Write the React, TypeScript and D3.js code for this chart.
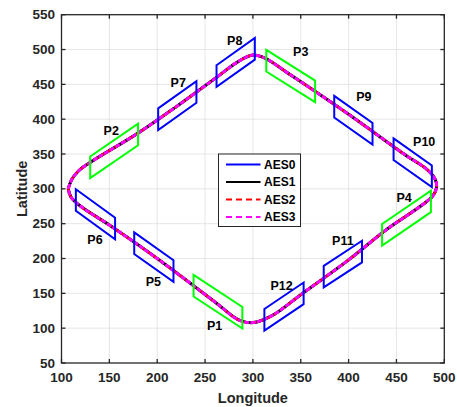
import React from 'react';
import * as d3 from 'd3';

const width = 457, height = 407;
const plot = { left: 61.5, right: 444.3, top: 14.7, bottom: 363 };

const xTicks = [100, 150, 200, 250, 300, 350, 400, 450, 500];
const yTicks = [50, 100, 150, 200, 250, 300, 350, 400, 450, 500, 550];

// trajectory waypoints (longitude, latitude)
const track: [number, number][] = [
    [107, 300], [111, 314], [118, 326], [130, 338], [180, 380], [220, 418],
    [260, 458], [285, 483], [300, 492], [312, 488], [340, 463], [400, 407],
    [460, 348], [480, 330], [490, 315], [492, 303], [488, 290], [475, 275],
    [440, 242], [400, 198], [350, 148], [320, 118], [300, 108], [285, 112],
    [260, 138], [200, 200], [150, 248], [120, 275], [110, 288], [107, 300]
];

const series = ['AES0', 'AES1', 'AES2', 'AES3'];
const seriesColor = ['#0000ff', '#000000', '#ff0000', '#ff00ff'];
const seriesDash = ['', '', '6 4', '6 4'];

// parallelogram regions: centre of left edge, centre of right edge
const boxNames = ['P1', 'P2', 'P3', 'P4', 'P5', 'P6', 'P7', 'P8', 'P9', 'P10', 'P11', 'P12'];
const boxStart: [number, number][] = [
    [238, 161], [130, 331], [314, 484], [435, 234], [176, 222], [115, 284],
    [201, 400], [262, 462], [385, 418], [447, 357], [374, 174], [312, 112]
];
const boxEnd: [number, number][] = [
    [289, 115], [180, 378], [365, 440], [486, 282], [217, 182], [156, 243],
    [241, 439], [302, 501], [425, 379], [487, 318], [414, 210], [353, 150]
];
const boxGreen = [true, true, true, true, false, false, false, false, false, false, false, false];
const labelPos: [number, number][] = [
    [260, 103], [152, 383], [350, 497], [458, 287], [196, 166], [135, 227],
    [222, 452], [281, 512], [416, 432], [479, 367], [394, 225], [330, 160]
];
const boxHalf = 15.5;

const font = '"Liberation Sans", Arial, sans-serif';

export default function App() {
    const x = d3.scaleLinear().domain([100, 500]).range([plot.left, plot.right]);
    const y = d3.scaleLinear().domain([50, 550]).range([plot.bottom, plot.top]);

    const line = d3.line<[number, number]>()
        .x(d => x(d[0]))
        .y(d => y(d[1]))
        .curve(d3.curveCatmullRom.alpha(0.5));
    const path = line(track) || '';

    const boxPath = (i: number) => {
        const [x1, y1] = boxStart[i];
        const [x2, y2] = boxEnd[i];
        return `M${x(x1)},${y(y1 + boxHalf)}L${x(x2)},${y(y2 + boxHalf)}` +
            `L${x(x2)},${y(y2 - boxHalf)}L${x(x1)},${y(y1 - boxHalf)}Z`;
    };

    const legend = { x: 218.5, y: 154, w: 82, h: 72.5 };
    const tickLen = 4;
    const axisColor = '#262626';

    // on the track the dashes are drawn a bit denser so the magenta dominates
    const trackDash = ['', '', '5 3', '5 1.5'];
    const trackWidth = [2.5, 3, 2.5, 3];

    return (
        <svg width={width} height={height} style={{ position: 'absolute', left: 0, top: 0, background: '#fff' }}>
            <defs>
                <clipPath id="plotClip">
                    <rect x={plot.left} y={plot.top} width={plot.right - plot.left} height={plot.bottom - plot.top} />
                </clipPath>
            </defs>
            <rect x={0} y={0} width={width} height={height} fill="#fff" />
            {/* grid */}
            {xTicks.slice(1, -1).map(t => (
                <line key={'gx' + t} x1={x(t)} x2={x(t)} y1={plot.top} y2={plot.bottom} stroke="#dfdfdf" strokeWidth={0.8} />
            ))}
            {yTicks.slice(1, -1).map(t => (
                <line key={'gy' + t} x1={plot.left} x2={plot.right} y1={y(t)} y2={y(t)} stroke="#dfdfdf" strokeWidth={0.8} />
            ))}

            <g clipPath="url(#plotClip)">
                {series.map((s, i) => (
                    <path key={s} d={path} fill="none" stroke={seriesColor[i]}
                        strokeWidth={trackWidth[i]} strokeDasharray={trackDash[i]} />
                ))}
                {boxNames.map((n, i) => (
                    <path key={n} d={boxPath(i)} fill="none" stroke={boxGreen[i] ? '#00ff00' : '#0000ff'}
                        strokeWidth={2} strokeLinejoin="miter" />
                ))}
            </g>
            {boxNames.map((n, i) => (
                <text key={'l' + n} x={x(labelPos[i][0])} y={y(labelPos[i][1])} textAnchor="middle"
                    dominantBaseline="central" fontFamily={font} fontWeight="bold" fontSize={12.5} fill="#000">{n}</text>
            ))}

            {/* axes box and ticks */}
            <rect x={plot.left} y={plot.top} width={plot.right - plot.left} height={plot.bottom - plot.top}
                fill="none" stroke={axisColor} strokeWidth={1.3} />
            {xTicks.map(t => (
                <g key={'tx' + t}>
                    <line x1={x(t)} x2={x(t)} y1={plot.bottom} y2={plot.bottom - tickLen} stroke={axisColor} strokeWidth={1.3} />
                    <line x1={x(t)} x2={x(t)} y1={plot.top} y2={plot.top + tickLen} stroke={axisColor} strokeWidth={1.3} />
                    <text x={x(t)} y={plot.bottom + 14} textAnchor="middle" dominantBaseline="central"
                        fontFamily={font} fontWeight="bold" fontSize={13.5} fill={axisColor}>{t}</text>
                </g>
            ))}
            {yTicks.map(t => (
                <g key={'ty' + t}>
                    <line x1={plot.left} x2={plot.left + tickLen} y1={y(t)} y2={y(t)} stroke={axisColor} strokeWidth={1.3} />
                    <line x1={plot.right} x2={plot.right - tickLen} y1={y(t)} y2={y(t)} stroke={axisColor} strokeWidth={1.3} />
                    <text x={plot.left - 6.5} y={y(t)} textAnchor="end" dominantBaseline="central"
                        fontFamily={font} fontWeight="bold" fontSize={13.5} fill={axisColor}>{t}</text>
                </g>
            ))}
            <text x={(plot.left + plot.right) / 2} y={398} textAnchor="middle" dominantBaseline="central"
                fontFamily={font} fontWeight="bold" fontSize={14.5} fill={axisColor}>Longitude</text>
            <text transform={`translate(22, ${(plot.top + plot.bottom) / 2}) rotate(-90)`} textAnchor="middle"
                dominantBaseline="central" fontFamily={font} fontWeight="bold" fontSize={14.5} fill={axisColor}>Latitude</text>

            {/* legend */}
            <rect x={legend.x} y={legend.y} width={legend.w} height={legend.h} fill="#fff" stroke={axisColor} strokeWidth={1} />
            {series.map((s, i) => {
                const ly = legend.y + 10.5 + i * 17.5;
                return (
                    <g key={'lg' + s}>
                        <line x1={legend.x + 7.5} x2={legend.x + 42} y1={ly} y2={ly} stroke={seriesColor[i]}
                            strokeWidth={2} strokeDasharray={seriesDash[i]} />
                        <text x={legend.x + 45.5} y={ly} dominantBaseline="central" fontFamily={font}
                            fontWeight="bold" fontSize={12} fill="#000">{s}</text>
                    </g>
                );
            })}
        </svg>
    );
}
